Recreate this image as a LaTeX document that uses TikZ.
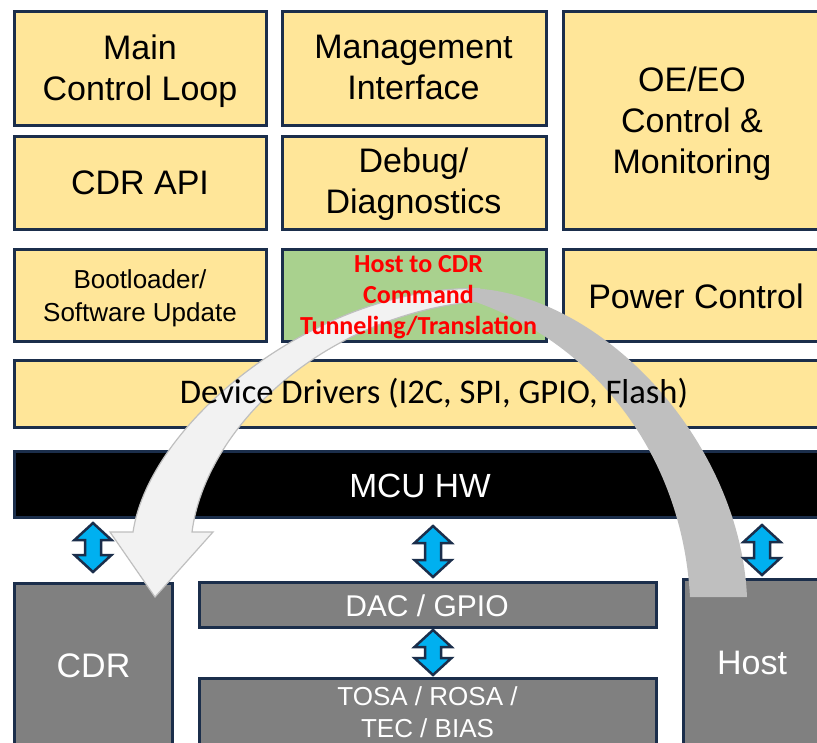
\documentclass[tikz,border=0pt]{standalone}
\usepackage{fontspec}
\setmainfont{Liberation Sans}
\newfontfamily\calfont{Carlito}
\definecolor{ylw}{HTML}{FFE699}
\definecolor{grn}{HTML}{A9D18E}
\definecolor{navy}{HTML}{1B2E4B}
\definecolor{boxgray}{HTML}{808080}
\definecolor{cyanblue}{HTML}{00B0F0}
\definecolor{arcdark}{HTML}{BFBFBF}
\definecolor{arclight}{HTML}{F2F2F2}
\definecolor{redtext}{HTML}{FF0000}
\tikzset{
  blk/.style={draw=navy, line width=3pt, inner sep=0pt},
  ybox/.style={blk, fill=ylw},
  gbox/.style={blk, fill=grn},
  kbox/.style={blk, fill=black},
  hbox/.style={blk, fill=boxgray},
  bigtxt/.style={inner sep=0pt, align=center, font=\fontsize{34}{41}\selectfont},
  smtxt/.style={inner sep=0pt, align=center, font=\fontsize{26}{33}\selectfont},
  redtxt/.style={inner sep=0pt, align=center, text=redtext, font=\calfont\bfseries\fontsize{26}{31}\selectfont},
  drvtxt/.style={inner sep=0pt, font=\calfont\fontsize{34.6}{41}\selectfont},
  wtxt/.style={inner sep=0pt, align=center, text=white},
  biarrow/.style={fill=cyanblue, draw=navy, line width=2.5pt, line join=miter},
}
\newcommand\blkbox[6]{\node[#2, minimum width={#5-#3}, minimum height={#6-#4}] (#1) at ({(#3+#5)/2},{(#4+#6)/2}) {};}
\newcommand\bidir[3]{%
  \draw[biarrow] ({#1},{#2}) -- ({#1+18.5},{#2+17}) -- ({#1+8},{#2+17}) -- ({#1+8},{#3-17})
   -- ({#1+18.5},{#3-17}) -- ({#1},{#3}) -- ({#1-18.5},{#3-17}) -- ({#1-8},{#3-17})
   -- ({#1-8},{#2+17}) -- ({#1-18.5},{#2+17}) -- cycle;}
\begin{document}
\begin{tikzpicture}[x=1pt,y=-1pt]
\useasboundingbox (0,0) rectangle (817,742);
\clip (0,0) rectangle (817,742);
% boxes
\blkbox{mcl}{ybox}{14}{11}{266}{125}
\blkbox{mgmt}{ybox}{282}{11}{546}{125}
\blkbox{oeeo}{ybox}{563}{11}{825}{229}
\blkbox{cdrapi}{ybox}{14}{136}{266}{229}
\blkbox{debug}{ybox}{282}{136}{546}{229}
\blkbox{boot}{ybox}{14}{249}{266}{341}
\blkbox{tunnel}{gbox}{282}{249}{546}{341}
\blkbox{power}{ybox}{563}{249}{825}{341}
\blkbox{drv}{ybox}{14}{360}{825}{427}
\blkbox{mcu}{kbox}{14}{451}{825}{517}
\blkbox{cdr}{hbox}{14}{583}{172}{760}
\blkbox{dac}{hbox}{199}{582}{656}{627}
\blkbox{tosa}{hbox}{199}{678}{656}{760}
\blkbox{host}{hbox}{683}{579}{825}{760}
% big curved arrow: light part (towards CDR)
\fill[arclight] (480,288.5) .. controls (320,285) and (150,420) .. (133,532) -- (110,532) -- (155,597) -- (213,532) -- (192,532) .. controls (205,430) and (320,315) .. (480,301) -- cycle;
\draw[arcdark, line width=1.2pt, line join=miter] (480,288.5) .. controls (320,285) and (150,420) .. (133,532) -- (110,532) -- (155,597) -- (213,532) -- (192,532) .. controls (205,430) and (320,315) .. (480,301);
% big curved arrow: dark part (from Host)
\fill[arcdark] (466,288) .. controls (600,290) and (740,440) .. (747,597) -- (690,597) .. controls (682,450) and (590,340) .. (470,300) -- cycle;
% bidirectional connectors
\bidir{93}{523}{572}
\bidir{433}{526}{577}
\bidir{433}{630}{675}
\bidir{762}{525}{575}
% texts
\node[bigtxt, anchor=north] (tmcl) at (140,35) {Main\\Control Loop};
\node[bigtxt, anchor=north] (tmgmt) at (413.5,35) {Management\\Interface};
\node[bigtxt, anchor=north] (toeeo) at (692,67) {OE/EO\\Control \&\\Monitoring};
\node[bigtxt] (tcdrapi) at (140,183) {CDR API};
\node[bigtxt, anchor=north] (tdebug) at (413.5,148) {Debug/\\Diagnostics};
\node[smtxt, anchor=north] (tboot) at (140,269) {Bootloader/\\Software Update};
\node[redtxt, anchor=north] (ttun) at (418.5,255) {Host to CDR\\Command\\Tunneling/Translation};
\node[bigtxt] (tpower) at (696,296) {Power Control};
\node[drvtxt, anchor=base] (tdrv) at (434,403) {Device Drivers (I2C, SPI, GPIO, Flash)};
\node[wtxt, anchor=base, font=\fontsize{33.5}{40}\selectfont] (tmcu) at (420,497) {MCU HW};
\node[wtxt, anchor=base, font=\fontsize{34}{41}\selectfont] (tcdr) at (93.5,677) {CDR};
\node[wtxt, anchor=base, font=\fontsize{30}{36}\selectfont] (tdac) at (427,616) {DAC / GPIO};
\node[wtxt, anchor=north, font=\fontsize{26}{32}\selectfont] (ttosa) at (427.5,686) {TOSA / ROSA /\\TEC / BIAS};
\node[wtxt, anchor=base, font=\fontsize{34}{41}\selectfont] (thost) at (752,674) {Host};
\end{tikzpicture}
\end{document}
